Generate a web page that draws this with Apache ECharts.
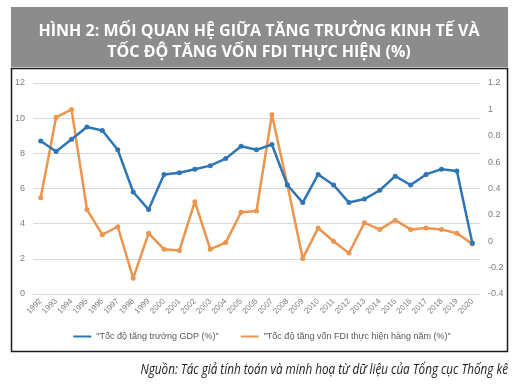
<!DOCTYPE html>
<html><head><meta charset="utf-8">
<script src="https://cdn.jsdelivr.net/npm/echarts@6/dist/echarts.min.js"></script>
<style>html,body{margin:0;padding:0;background:#fff}#c{width:524px;height:391px}</style>
</head><body><div id="c"></div>
<script>
const years = ['1992','1993','1994','1995','1996','1997','1998','1999','2000','2001','2002','2003','2004','2005','2006','2007','2008','2009','2010','2011','2012','2013','2014','2015','2016','2017','2018','2019','2020'];
const gdp = [8.7,8.1,8.8,9.5,9.3,8.2,5.8,4.8,6.8,6.9,7.1,7.3,7.7,8.4,8.2,8.5,6.2,5.2,6.8,6.2,5.2,5.4,5.9,6.7,6.2,6.8,7.1,7.0,2.9];
const fdi = [0.33,0.94,1.0,0.24,0.05,0.11,-0.28,0.06,-0.06,-0.07,0.30,-0.06,-0.01,0.22,0.23,0.96,0.43,-0.13,0.10,0.0,-0.09,0.14,0.09,0.16,0.09,0.10,0.09,0.06,-0.02];
const gdpName = '"Tốc độ tăng trưởng GDP (%)"';
const fdiName = '"Tốc độ tăng vốn FDI thực hiện hàng năm (%)"';
const titleLine1 = 'HÌNH 2: MỐI QUAN HỆ GIỮA TĂNG TRƯỞNG KINH TẾ VÀ';
const titleLine2 = 'TỐC ĐỘ TĂNG VỐN FDI THỰC HIỆN (%)';
const sourceText = 'Nguồn: Tác giả tính toán và minh hoạ từ dữ liệu của Tổng cục Thống kê';

const chart = echarts.init(document.getElementById('c'), null, {renderer:'canvas'});
const blue = '#2e75b6', orange = '#ed944d';
const titleFont = 'bold 16px "Open Sans", sans-serif';
chart.setOption({
  animation:false,
  graphic:[
    {type:'rect', shape:{x:11,y:7,width:497,height:60}, style:{fill:'#8c8c8c'}, z:0},
    {type:'rect', shape:{x:11.5,y:68.5,width:496,height:283}, style:{fill:'none',stroke:'#1a1a1a',lineWidth:1.5}, z:0},
    {type:'text', x:259, y:31, style:{text:titleLine1, fill:'#fff', font:titleFont, textAlign:'center', textVerticalAlign:'middle'}},
    {type:'text', x:259, y:52, style:{text:titleLine2, fill:'#fff', font:titleFont, textAlign:'center', textVerticalAlign:'middle'}},
    {type:'text', x:508, y:370, scaleX:0.78, style:{text:sourceText, fill:'#1a1a1a', font:'italic 15px "Open Sans", sans-serif', textAlign:'right', textVerticalAlign:'middle'}}
  ],
  grid:{left:33, right:44, top:83, bottom:97, containLabel:false},
  legend:{bottom:45, left:'center', itemWidth:18, itemHeight:6, itemGap:22,
    textStyle:{color:'#595959', fontSize:9, fontFamily:'"Liberation Sans", sans-serif'},
    data:[{name:gdpName, icon:'path://M0,2L18,2L18,4L0,4Z'},{name:fdiName, icon:'path://M0,2L18,2L18,4L0,4Z'}]},
  xAxis:{type:'category', data:years, boundaryGap:true,
    axisLine:{show:true, lineStyle:{color:'#d9d9d9'}}, axisTick:{show:false},
    axisLabel:{rotate:45, interval:0, color:'#7f7f7f', fontSize:8, margin:6, fontFamily:'"Liberation Sans", sans-serif'}},
  yAxis:[
    {type:'value', min:0, max:12, interval:2, position:'left',
     axisLine:{show:false}, axisTick:{show:false},
     axisLabel:{color:'#7f7f7f', fontSize:9, margin:8},
     splitLine:{lineStyle:{color:'#d9d9d9'}}},
    {type:'value', min:-0.4, max:1.2, interval:0.2, position:'right',
     axisLine:{show:false}, axisTick:{show:false},
     axisLabel:{color:'#7f7f7f', fontSize:9, margin:8, formatter:v=>String(Math.round(v*10)/10)},
     splitLine:{show:false}}
  ],
  series:[
    {name:gdpName, type:'line', yAxisIndex:0, data:gdp, symbol:'circle', symbolSize:5,
     lineStyle:{color:blue, width:2.5}, itemStyle:{color:blue}, z:3},
    {name:fdiName, type:'line', yAxisIndex:1, data:fdi, symbol:'circle', symbolSize:5,
     lineStyle:{color:orange, width:2.5}, itemStyle:{color:orange}, z:2}
  ]
});
</script></body></html>
